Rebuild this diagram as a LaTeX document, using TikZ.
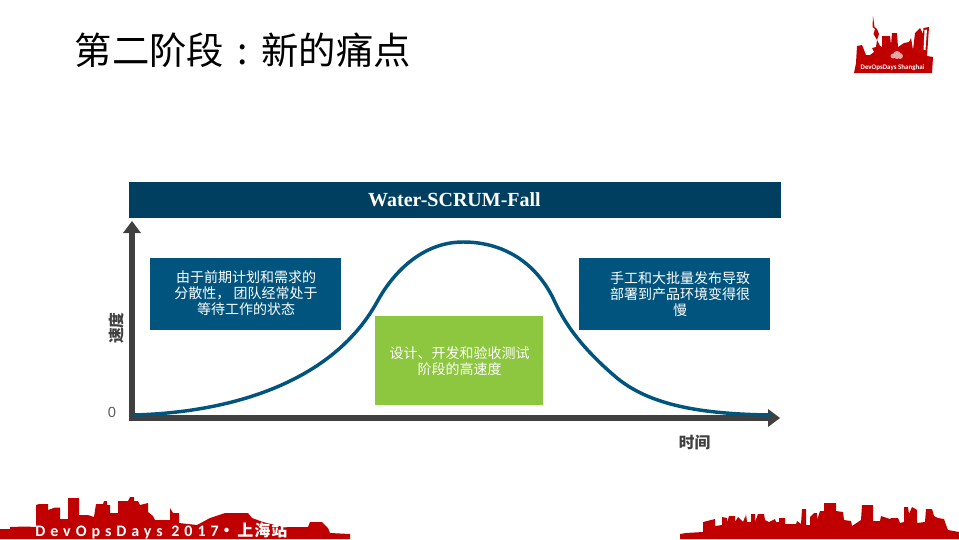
\documentclass[tikz,border=0pt]{standalone}
\usepackage{fontspec}
\setmainfont{Noto Sans CJK SC}
\newfontfamily\cjk{Noto Sans CJK SC}
\newfontfamily\hdfont{Liberation Serif}
\newfontfamily\zerofont{Liberation Sans}
\newfontfamily\spacedfont[LetterSpace=31]{Carlito}
\newfontfamily\spacedcjk[LetterSpace=6]{Noto Sans CJK SC}
\newfontfamily\logofont{Carlito}
\definecolor{hdblue}{HTML}{003F5F}
\definecolor{boxblue}{HTML}{00547E}
\definecolor{leaf}{HTML}{8DC63F}
\definecolor{axisgrey}{HTML}{404040}
\definecolor{cityred}{HTML}{C00000}
\tikzset{
  x=0.75pt,y=-0.75pt,
  bluebox/.style={fill=boxblue,draw=none,minimum width=143.25pt,minimum height=54pt,inner sep=0pt,text=white,align=center},
  boxtext/.style={text=white,align=center,font=\fontsize{10.5pt}{12.2pt}\selectfont\cjk},
  axisline/.style={draw=axisgrey,line width=4.5pt},
  axishead/.style={fill=axisgrey,draw=none},
  axislabel/.style={text=axisgrey,font=\fontsize{11.8pt}{13pt}\selectfont\cjk\bfseries},
  skyline/.style={fill=cityred,draw=none},
  curveline/.style={draw=boxblue,line width=2.6pt,line cap=round}
}
\begin{document}
\begin{tikzpicture}
\useasboundingbox (0,0) rectangle (959,539);
\fill[white] (0,0) rectangle (959,539);
% title
\node[anchor=west,inner sep=0pt,text=black,font=\fontsize{28pt}{32pt}\selectfont\cjk] (title) at (74.5,50.5) {第二阶段\makebox[28pt][c]{:}新的痛点};
% header
\fill[hdblue] (129,182) rectangle (781,218);
\node[text=white,inner sep=0pt,font=\fontsize{15pt}{18pt}\selectfont\hdfont\bfseries] (hd) at (454.5,200) {Water-SCRUM-Fall};
% axes
\coordinate (origin) at (132,418);
\coordinate (ytip) at (132,221);
\coordinate (xtip) at (780,418);
\draw[axisline] (129,418) -- (770,418);
\draw[axisline] (origin) -- (132,232);
\fill[axishead] (ytip) -- (141,233) -- (123,233) -- cycle;
\fill[axishead] (xtip) -- (768,409) -- (768,427) -- cycle;
% curve
\draw[curveline] (134,415) .. controls (240,412) and (335,378) .. (377,302)
  .. controls (395,269) and (425,242) .. (463,242)
  .. controls (503,242) and (535,262) .. (553,298)
  .. controls (563,320) and (578,345) .. (617,378)
  .. controls (650,405) and (700,414) .. (770,415);
% boxes
\node[bluebox] (left) at (245.5,294) {};
\node[boxtext] at (246,293) {由于前期计划和需求的\\分散性， 团队经常处于\\等待工作的状态};
\node[bluebox] (right) at (674.5,294) {};
\node[boxtext] at (680,294) {手工和大批量发布导致\\部署到产品环境变得很\\慢};
\node[fill=leaf,minimum width=126pt,minimum height=66.75pt,inner sep=0pt] (mid) at (459,360.5) {};
\node[boxtext] at (459.5,361.5) {设计、开发和验收测试\\阶段的高速度};
% axis labels
\node[axislabel,rotate=90,inner sep=0pt] (ylab) at (116,328) {速度};
\node[axislabel,inner sep=0pt] (xlab) at (694.5,443) {时间};
\node[inner sep=0pt,text=axisgrey!85,font=\fontsize{11pt}{12pt}\selectfont\zerofont] (zero) at (112,412) {0};
% bottom-left skyline
\fill[skyline] (0,539) -- (0,529) -- (10,529) -- (10,527) -- (25,526.5) -- (36,527) -- (36,505) -- (39,504) -- (48,504) -- (48,510) -- (55,507.5) -- (60,507.5) -- (60,519) -- (68,519) -- (68,498) -- (79,498) -- (79,515) -- (88,515) -- (94,517) -- (96,504) -- (103,504) -- (104,501) -- (107,501) -- (107,505) -- (110,505) -- (110,513) -- (118,513) -- (118,501) -- (128,501) -- (130,497) -- (134,497) -- (134,501) -- (138,501) -- (140,505) -- (148,503) -- (148,512) -- (153,516) -- (155,520) -- (170,520) -- (170,508) -- (173,513) -- (179,513) -- (179,523) -- (197,525) -- (210,518) -- (225,513) -- (243,513) -- (248,513) -- (252,518) -- (263,522) -- (283,527) -- (308,527) -- (310,522) -- (322,522) -- (328,528) -- (330,533) -- (350,534) -- (350,539) -- cycle;
\node[anchor=west,inner sep=0pt,text=white,font=\fontsize{12pt}{13pt}\selectfont] (foot) at (35,531) {{\spacedfont\bfseries DevOpsDays 2017}{\spacedcjk\bfseries•\hspace{2pt}上海站}};
% bottom-right skyline
\fill[skyline] (680,539) -- (680,534) -- (686,533) -- (703,532) -- (703,522) -- (715,519) -- (715,526) -- (722,525) -- (722,517) -- (727,518) -- (727,523) -- (729,516) -- (735,516) -- (735,522) -- (738,517) -- (743,522) -- (745,517) -- (744,524) -- (746,514) -- (747,522) -- (751,522) -- (751,514) -- (755,514) -- (755,522) -- (758,514) -- (764,514) -- (765,520) -- (769,522) -- (775,519) -- (776,522) -- (779,522) -- (779,518) -- (785,518) -- (785,524) -- (796,524) -- (797,521) -- (801,524) -- (802,509) -- (806,509) -- (806,525) -- (810,525) -- (810,517) -- (814,513) -- (817,513) -- (817,520) -- (820,511) -- (824,511) -- (824,503) -- (836,503) -- (836,511) -- (843,512) -- (844,520) -- (851,521) -- (852,526) -- (858,522) -- (861,520) -- (862,505) -- (873,505) -- (873,521) -- (880,521) -- (881,516) -- (890,519) -- (891,518) -- (898,518) -- (900,523) -- (904,522) -- (904,507) -- (908,507) -- (909,514) -- (912,507) -- (917,510) -- (917,523) -- (925,522) -- (926,509) -- (932,509) -- (934,516) -- (938,518) -- (944,519) -- (946,525) -- (948,530) -- (959,532) -- (959,539) -- cycle;
% logo
\fill[skyline] (854,73) -- (856,63) -- (857,46) -- (862,45) -- (866,55) -- (870,55) -- (874,52) -- (872,48) -- (876,47) -- (877,40) -- (873.5,34) -- (875,29) -- (872.5,27) -- (873,16) -- (874.5,27) -- (877,29) -- (879,34) -- (877,40) -- (880,46) -- (882,47) -- (882,36) -- (890,36) -- (891,45) -- (892,33) -- (897,33) -- (898,47) -- (904,43) -- (909,42) -- (911,38) -- (913,50) -- (915,33) -- (918,30) -- (920,28) -- (923,34) -- (923.5,28) -- (929,27) -- (927,56) -- (933,57) -- (932,73) -- cycle;
\fill[white] (924.5,30) -- (927,29.5) -- (925.5,50) -- (923.5,50) -- cycle;
\fill[white,opacity=0.65] (897,55) circle (3pt) (900,56) circle (2.2pt) (893,56) circle (1.8pt);
\node[inner sep=0pt,text=white,font=\fontsize{5.2pt}{6pt}\selectfont\logofont\bfseries] (logotext) at (892.5,68) {DevOpsDays Shanghai};
\end{tikzpicture}
\end{document}
